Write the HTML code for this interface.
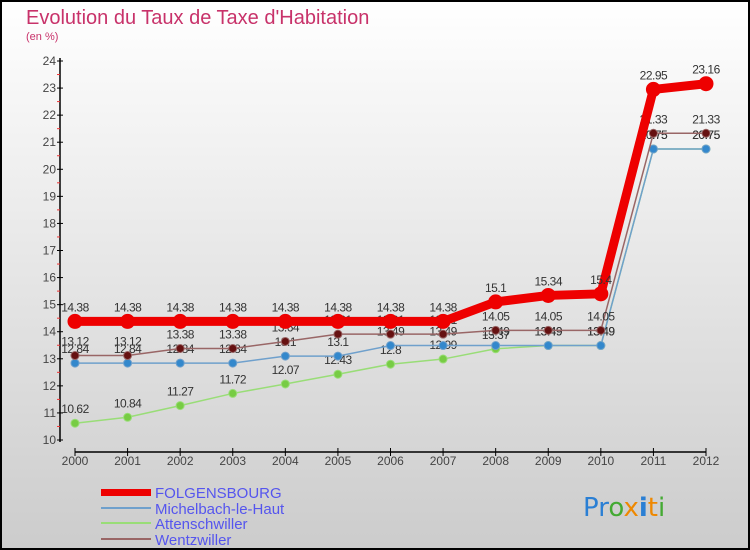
<!DOCTYPE html>
<html><head><meta charset="utf-8"><style>
body{margin:0}
#c{width:750px;height:550px;position:relative;overflow:hidden;font-family:"Liberation Sans",sans-serif}
</style></head><body>
<div id="c">
<svg id="s" width="750" height="550" xmlns="http://www.w3.org/2000/svg">
<defs><linearGradient id="bg" x1="0" y1="0" x2="0" y2="1"><stop offset="0" stop-color="#ffffff"/><stop offset="1" stop-color="#cccccc"/></linearGradient></defs>
<rect x="1" y="1" width="748" height="548" fill="url(#bg)" stroke="#000" stroke-width="2"/>
<text x="26" y="24" font-size="20" fill="#c8326a">Evolution du Taux de Taxe d'Habitation</text>
<text x="26" y="40" font-size="11" fill="#c8326a">(en %)</text>
<g id="axes"></g><g id="series"></g>
<g>
<rect x="101" y="489" width="50" height="7" fill="#ee0000"/>
<text x="155" y="498" font-size="15" fill="#5555ee">FOLGENSBOURG</text>
<rect x="101" y="507" width="50" height="2" fill="#6fa0cc"/>
<text x="155" y="514" font-size="15" fill="#5555ee">Michelbach-le-Haut</text>
<rect x="101" y="522" width="50" height="2" fill="#99dd77"/>
<text x="155" y="529" font-size="15" fill="#5555ee">Attenschwiller</text>
<rect x="101" y="538" width="50" height="2" fill="#996666"/>
<text x="155" y="545" font-size="15" fill="#5555ee">Wentzwiller</text>
</g>
<g font-size="26" font-family="'DejaVu Sans',sans-serif">
<text x="583" y="516"><tspan fill="#2a7fd4">Pr</tspan><tspan fill="#44aa33">o</tspan><tspan fill="#ee8800">x</tspan><tspan fill="#2a7fd4" font-weight="bold">i</tspan><tspan fill="#ee8800">t</tspan><tspan fill="#44aa33">i</tspan></text>
</g>
</svg></div>
<script>
const years=[2000,2001,2002,2003,2004,2005,2006,2007,2008,2009,2010,2011,2012];
const yTicks=[10,11,12,13,14,15,16,17,18,19,20,21,22,23,24];
const folgensbourg=[14.38,14.38,14.38,14.38,14.38,14.38,14.38,14.38,15.1,15.34,15.4,22.95,23.16];
const michelbach=[12.84,12.84,12.84,12.84,13.1,13.1,13.49,13.49,13.49,13.49,13.49,20.75,20.75];
const attenschwiller=[10.62,10.84,11.27,11.72,12.07,12.43,12.8,12.99,13.37,13.49,13.49,20.75,20.75];
const wentzwiller=[13.12,13.12,13.38,13.38,13.64,13.91,13.91,13.91,14.05,14.05,14.05,21.33,21.33];
const NS="http://www.w3.org/2000/svg";
const X=i=>75+i*(631/12);
const Y=v=>440-(v-10)*(379/14);
function mk(t,a,p){const e=document.createElementNS(NS,t);for(const k in a)e.setAttribute(k,a[k]);p.appendChild(e);return e;}
const ax=document.getElementById('axes');
let l=mk('line',{x1:60,y1:58,x2:60,y2:442,stroke:'#000','stroke-width':1.5},ax);

l=mk('line',{x1:75,y1:452,x2:706,y2:452,stroke:'#000','stroke-width':1.5},ax);

yTicks.forEach(v=>{
 mk('line',{x1:57,x2:63,y1:Y(v),y2:Y(v),stroke:'#000'},ax);
 if(v<24) mk('line',{x1:57,x2:60,y1:Y(v+0.5),y2:Y(v+0.5),stroke:'#ee3333'},ax);
 const t=mk('text',{x:56,y:Y(v)+4,'font-size':12,fill:'#444','text-anchor':'end'},ax);t.textContent=v;
 
});
years.forEach((y,i)=>{
 mk('line',{x1:X(i),x2:X(i),y1:448,y2:456,stroke:'#000'},ax);
 const t=mk('text',{x:X(i),y:465,'font-size':12,fill:'#444','text-anchor':'middle'},ax);t.textContent=y;
 
});
const sg=document.getElementById('series');
function series(name,vals,col,w,r,fill){
 const g=mk('g',{},sg);
 
 mk('polyline',{points:vals.map((v,i)=>X(i)+','+Y(v)).join(' '),fill:'none',stroke:col,'stroke-width':w,'stroke-linejoin':'round'},g);
 vals.forEach((v,i)=>{
  const c=mk('circle',{cx:X(i),cy:Y(v),r:r,fill:fill,stroke:col,'stroke-width':1},g);
  
  const t=mk('text',{x:X(i),y:Y(v)-10,'font-size':12,fill:'#333','text-anchor':'middle','letter-spacing':'-0.5'},g);
  t.textContent=v;
 });
}
series('attenschwiller',attenschwiller,'#99dd77',1.5,4,'#77cc44');
series('michelbach',michelbach,'#6fa0cc',1.5,4,'#3388cc');
series('wentzwiller',wentzwiller,'#996666',1.5,4,'#661111');
series('folgensbourg',folgensbourg,'#ee0000',9,7,'#ee0000');
</script>
</body></html>
